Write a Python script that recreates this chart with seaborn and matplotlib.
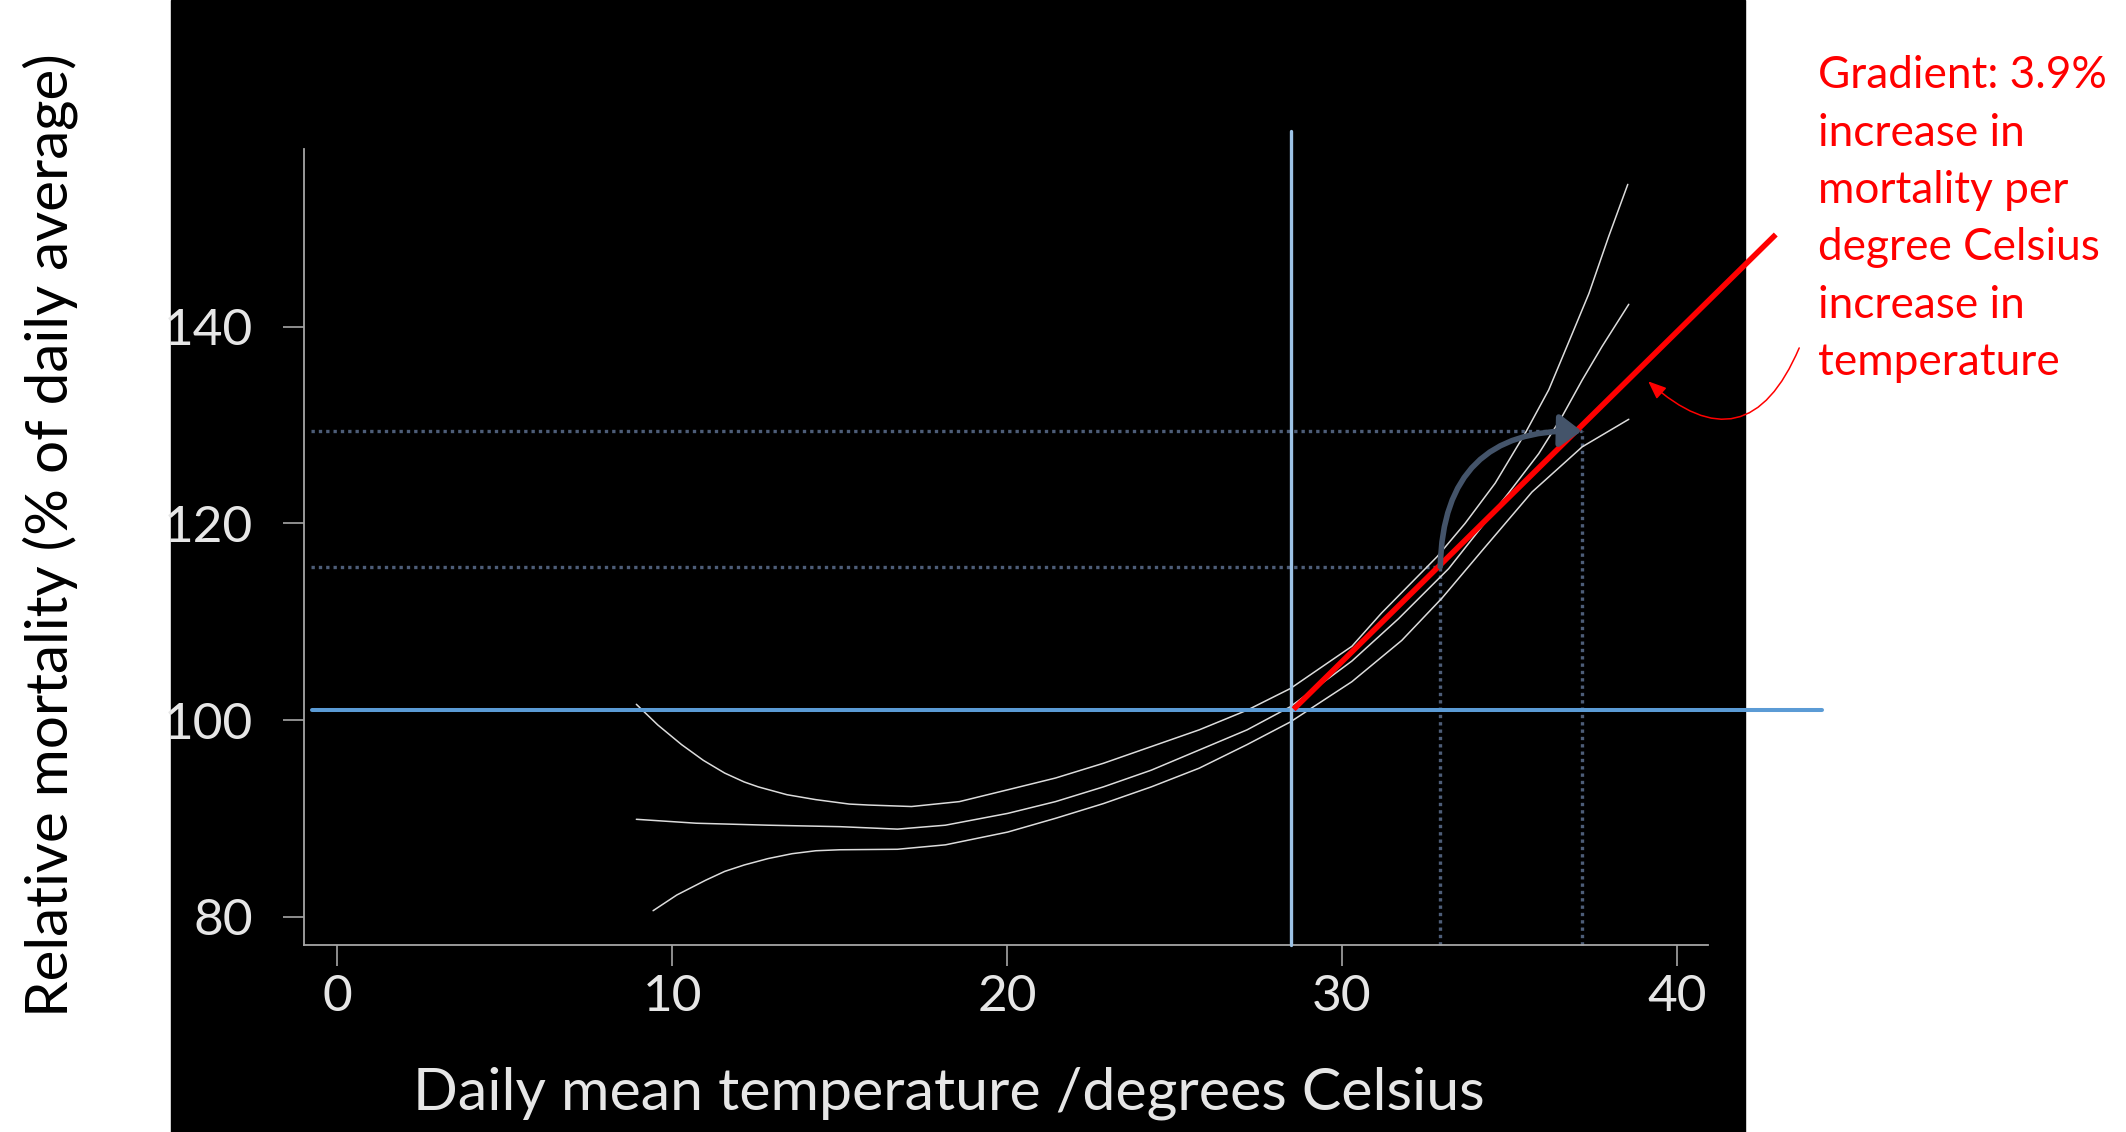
import pandas as pd
import seaborn as sns
import matplotlib.pyplot as plt
from matplotlib.patches import FancyArrowPatch, Rectangle

# Curves: daily mean temperature vs relative mortality
upper_temp = [8.93, 9.57, 10.28, 10.93, 11.57, 12.15, 12.57, 13.43, 14.29, 15.29, 15.87, 17.15, 18.58,
              20.02, 21.45, 22.88, 24.31, 25.74, 27.17, 28.46, 30.3, 31.19, 32.84, 33.68, 34.58, 35.48,
              36.18, 36.88, 37.38, 37.97, 38.54]
upper_mort = [101.6, 99.5, 97.5, 95.9, 94.6, 93.7, 93.2, 92.4, 91.9, 91.45, 91.35, 91.2, 91.7,
              92.9, 94.1, 95.6, 97.3, 99.0, 101.0, 103.2, 107.5, 110.9, 116.6, 120.0, 124.1, 129.2,
              133.6, 139.3, 143.4, 149.2, 154.5]
mid_temp = [8.93, 10.72, 12.86, 15.01, 16.73, 18.16, 20.02, 21.45, 22.88, 24.31, 25.74, 27.17,
            28.46, 30.3, 31.69, 33.19, 34.98, 35.88, 36.58, 37.18, 37.77, 38.57]
mid_mort = [89.9, 89.5, 89.3, 89.15, 88.9, 89.3, 90.5, 91.7, 93.2, 94.9, 96.95, 99.0,
            101.35, 106.0, 110.3, 115.4, 123.1, 127.1, 130.9, 134.6, 138.0, 142.3]
lower_temp = [9.43, 10.14, 11.0, 11.57, 12.15, 12.86, 13.58, 14.29, 15.01, 16.73, 18.16, 20.02, 21.45,
              22.88, 24.31, 25.74, 27.17, 28.46, 30.3, 31.79, 32.99, 34.18, 35.68, 37.18, 38.57]
lower_mort = [80.6, 82.2, 83.7, 84.6, 85.25, 85.9, 86.4, 86.7, 86.8, 86.85, 87.3, 88.6, 90.0,
              91.5, 93.2, 95.1, 97.5, 99.8, 103.9, 108.1, 112.4, 117.2, 123.2, 127.8, 130.6]

threshold_temp = 28.48        # vertical blue line
baseline_mort = 101.0         # horizontal blue line
grad_temp = [28.56, 42.96]    # red gradient line
grad_mort = [101.1, 149.4]
example_temp = [32.94, 37.16]  # dotted read-off lines
example_mort = [115.6, 129.4]

xticks = [0, 10, 20, 30, 40]
yticks = [80, 100, 120, 140]

annotation = ['Gradient: 3.9%', 'increase in', 'mortality per', 'degree Celsius', 'increase in', 'temperature']

df = pd.concat([
    pd.DataFrame({'temp': upper_temp, 'mortality': upper_mort, 'curve': 'upper'}),
    pd.DataFrame({'temp': mid_temp, 'mortality': mid_mort, 'curve': 'mid'}),
    pd.DataFrame({'temp': lower_temp, 'mortality': lower_mort, 'curve': 'lower'}),
])

sns.set_theme(style='white')
plt.rcParams['font.family'] = ['Lato', 'DejaVu Sans']

W, H = 2126, 1132
fig = plt.figure(figsize=(W / 100, H / 100), dpi=100)
fig.patch.set_facecolor('white')
fig.add_artist(Rectangle((171 / W, 0), (1745 - 171) / W, 1, transform=fig.transFigure,
                         color='black', zorder=-10))

ax = fig.add_axes([304.2 / W, (H - 945) / H, 1403.6 / W, 796 / H])
ax.set_facecolor('none')
ymin, ymax = 77.11, 158.1
ax.set_xlim(-0.99, 40.93)
ax.set_ylim(ymin, ymax)

# dotted read-off lines
dot_col = '#4d5d78'
for t, m in zip(example_temp, example_mort):
    ax.plot([-0.8, t], [m, m], ls=(0, (1, 1.2)), lw=2.4, color=dot_col, zorder=1.5, clip_on=False)
    ax.plot([t, t], [ymin, m], ls=(0, (1, 1.2)), lw=2.4, color=dot_col, zorder=1.5, clip_on=False)

# the three curves
sns.lineplot(data=df, x='temp', y='mortality', units='curve', estimator=None,
             color='#dcdcdc', lw=1.1, ax=ax, zorder=2)

# reference lines
ax.plot([-0.77, 44.35], [baseline_mort, baseline_mort], color='#5b9bd5', lw=2.9, zorder=3, clip_on=False)
ax.plot([threshold_temp, threshold_temp], [ymin, 159.9], color='#9dc3e6', lw=2.4, zorder=3, clip_on=False)

# gradient line
ax.plot(grad_temp, grad_mort, color='#ff0000', lw=4, zorder=4, clip_on=False, solid_capstyle='butt')

# curved grey arrow between the two read-off points
ax.add_patch(FancyArrowPatch((example_temp[0], example_mort[0]), (example_temp[1], example_mort[1]),
                             connectionstyle='arc3,rad=-0.5',
                             arrowstyle='-|>,head_length=0.95,head_width=0.7', mutation_scale=14,
                             color='#44546a', lw=4, shrinkA=0, shrinkB=0, zorder=6, clip_on=False))

# thin red arrow pointing from the text to the gradient line
ax.add_patch(FancyArrowPatch((43.66, 137.86), (39.15, 134.46), connectionstyle='arc3,rad=-0.7',
                             arrowstyle='-|>,head_length=1.1,head_width=0.45', mutation_scale=10,
                             color='#ff0000', lw=1.1, shrinkA=0, shrinkB=0, zorder=6, clip_on=False))

# axes styling
for s in ['top', 'right']:
    ax.spines[s].set_visible(False)
for s in ['left', 'bottom']:
    ax.spines[s].set_color('#a6a6a6')
    ax.spines[s].set_linewidth(1.3)
ax.spines['left'].set_bounds(ymin, ymax)
ax.set_xticks(xticks)
ax.set_yticks(yticks)
ax.tick_params(bottom=True, left=True, direction='out', length=15, width=1.2, color='#a6a6a6',
               labelcolor='#e6e6e6', labelsize=37)
ax.tick_params(axis='y', pad=22)
ax.tick_params(axis='x', pad=6)
ax.set_ylabel('')
ax.set_xlabel('Daily mean temperature /degrees Celsius', fontsize=42.5, color='#e6e6e6')
ax.xaxis.set_label_coords(0.459, -0.153)

fig.text(50 / W, 1 - 535 / H, 'Relative mortality (% of daily average)', rotation=90,
         ha='center', va='center', fontsize=42, color='black')

for i, line in enumerate(annotation):
    fig.text(1818 / W, 1 - (88.3 + i * 57.4) / H, line, color='#ff0000', fontsize=31.8,
             ha='left', va='baseline')

fig.savefig('out.png', dpi=100, facecolor=fig.get_facecolor())
